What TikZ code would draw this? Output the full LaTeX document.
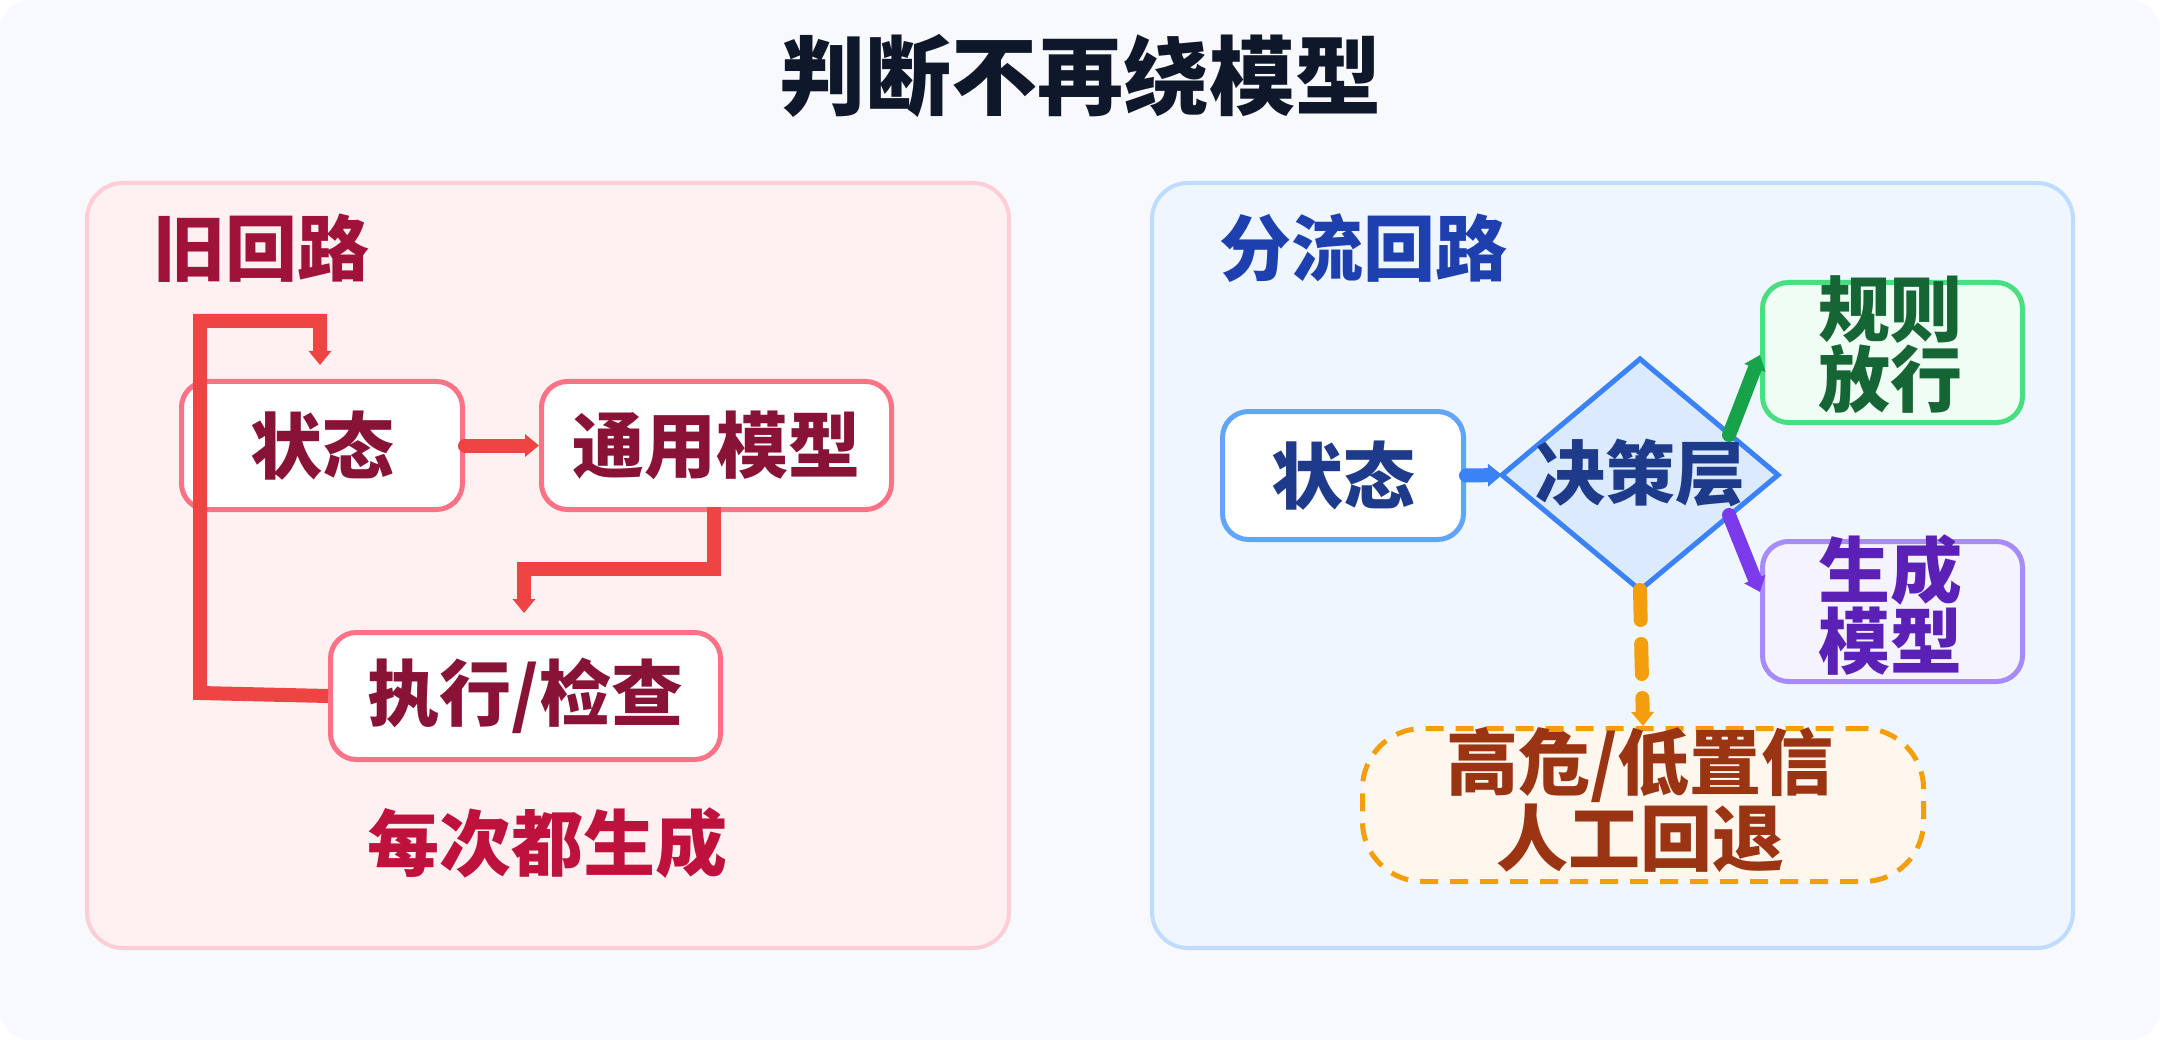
\documentclass[tikz,border=0pt]{standalone}
\usepackage{fontspec}
\setmainfont{Noto Sans CJK SC}[BoldFont={Noto Sans CJK SC Black}]
\usetikzlibrary{arrows.meta,shapes.geometric}

\definecolor{pagebg}{HTML}{F8F9FC}
\definecolor{titlec}{HTML}{0F172A}
\definecolor{oldfill}{HTML}{FFF0F2}
\definecolor{oldline}{HTML}{FECDD6}
\definecolor{oldbox}{HTML}{FB7185}
\definecolor{oldtext}{HTML}{881337}
\definecolor{oldhead}{HTML}{9F1239}
\definecolor{oldnote}{HTML}{BE123C}
\definecolor{oldarrow}{HTML}{EF4444}
\definecolor{newfill}{HTML}{EFF6FF}
\definecolor{newline}{HTML}{BFDBFE}
\definecolor{newhead}{HTML}{1E40AF}
\definecolor{newtext}{HTML}{1E3A8A}
\definecolor{statebox}{HTML}{60A5FA}
\definecolor{diafill}{HTML}{DBEAFE}
\definecolor{diaedge}{HTML}{3B82F6}
\definecolor{ruleline}{HTML}{4ADE80}
\definecolor{rulefill}{HTML}{F0FDF4}
\definecolor{ruletext}{HTML}{166534}
\definecolor{rulearrow}{HTML}{16A34A}
\definecolor{genline}{HTML}{A78BFA}
\definecolor{genfill}{HTML}{F5F3FF}
\definecolor{gentext}{HTML}{5B21B6}
\definecolor{genarrow}{HTML}{7C3AED}
\definecolor{fbline}{HTML}{F59E0B}
\definecolor{fbfill}{HTML}{FFF7ED}
\definecolor{fbtext}{HTML}{9A3412}

\tikzset{
  panel/.style={draw, line width=4pt, rounded corners=36pt},
  box/.style={draw, line width=5pt, rounded corners=26pt, anchor=north west,
    inner sep=0pt, font=\fontsize{72}{72}\selectfont\bfseries},
  big/.style={font=\fontsize{72}{66}\selectfont\bfseries, align=center},
  flow/.style={line width=14pt, line cap=round, -{Triangle[width=22pt,length=14pt]}},
}

\begin{document}
\begin{tikzpicture}[x=1pt,y=-1pt]
        % page
        \fill[pagebg, rounded corners=30pt] (0,0) rectangle (2160,1040);

        % title
        \node[titlec, font=\fontsize{86}{86}\selectfont\bfseries] (title) at (1080,76) {判断不再绕模型};

        % left panel
        \draw[panel, oldline, fill=oldfill] (87,183) rectangle (1009,948);
        \node[oldhead, font=\fontsize{72}{72}\selectfont\bfseries, anchor=west] (oldlbl) at (150,248) {旧回路};

        \node[box, draw=oldbox, fill=white, text=oldtext, minimum width=281pt, minimum height=128pt] (st1) at (179,379) {状态};
        \node[box, draw=oldbox, fill=white, text=oldtext, minimum width=350pt, minimum height=128pt] (gm) at (539,379) {通用模型};
        \node[box, draw=oldbox, fill=white, text=oldtext, minimum width=390pt, minimum height=127pt] (ex) at (328,630) {执行/检查};

        \draw[flow, oldarrow] (st1.east) -- (gm.west);
        \draw[flow, oldarrow, line cap=butt] (714,507) -- (714,569) -- (524,569) -- (524,613);
        \draw[flow, oldarrow, line cap=butt] (ex.west) -- (200,693) -- (200,321) -- (320,321) -- (320,365);

        \node[oldnote, font=\fontsize{72}{72}\selectfont\bfseries] (note) at (547,843) {每次都生成};

        % right panel
        \draw[panel, newline, fill=newfill] (1152,183) rectangle (2073,948);
        \node[newhead, font=\fontsize{72}{72}\selectfont\bfseries, anchor=west] (newlbl) at (1216,248) {分流回路};

        \node[box, draw=statebox, fill=white, text=newtext, minimum width=241pt, minimum height=128pt] (st2) at (1220,409) {状态};
        \draw[diaedge, fill=diafill, line width=5pt, line join=miter]
          (1502,475) coordinate (dec-w) -- (1640,359) -- (1778,475) -- (1640,590) coordinate (dec-s) -- cycle;
        \node[text=newtext, font=\fontsize{70}{70}\selectfont\bfseries] (dec) at (1640,473) {决策层};

        \node[box, draw=ruleline, fill=rulefill, minimum width=260pt, minimum height=140pt] (rule) at (1760,280) {};
        \node[big, text=ruletext] at (1890,345) {规则\\放行};
        \node[box, draw=genline, fill=genfill, minimum width=260pt, minimum height=140pt] (gen) at (1760,539) {};
        \node[big, text=gentext] at (1890,605) {生成\\模型};

        \node[box, draw=fbline, fill=fbfill, dashed, dash pattern=on 18pt off 12pt, rounded corners=60pt,
          minimum width=561pt, minimum height=153pt] (fb) at (1360,726) {};
        \node[big, text=fbtext] at (1640,800) {高危/低置信\\人工回退};

        \draw[flow, diaedge] (st2.east) -- (dec-w);
        \draw[flow, rulearrow] (1729,435) -- (1760,355);
        \draw[flow, genarrow] (1729,515) -- (1760,592);
        \draw[flow, fbline, dash pattern=on 30pt off 24pt] (dec-s) -- (fb.north);
\end{tikzpicture}
\end{document}
